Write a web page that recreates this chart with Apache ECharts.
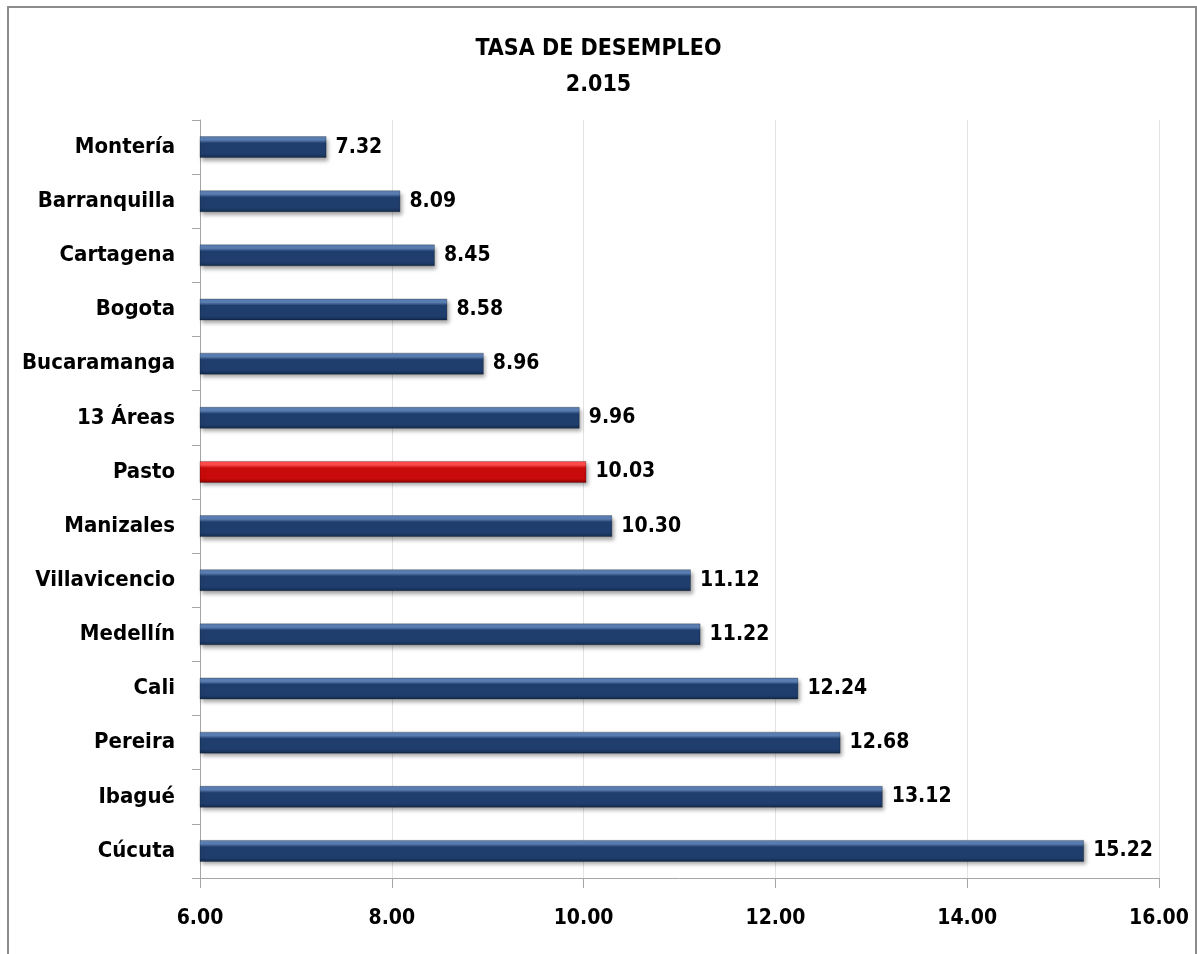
<!DOCTYPE html>
<html>
<head>
<meta charset="utf-8">
<script src="https://cdn.jsdelivr.net/npm/echarts@6/dist/echarts.min.js"></script>
<style>
  html, body { margin: 0; padding: 0; background: #fff; }
  #frame {
    position: absolute; left: 7px; top: 6px; width: 1190px; height: 960px;
    border: 2px solid #8c8c8c; box-sizing: border-box;
  }
  #myChart { width: 1197px; height: 954px; position: absolute; left: 0; top: 0; }
</style>
</head>
<body>
<div id="frame"></div>
<div id="myChart"></div>
<script>
// ciudades de arriba hacia abajo
var ciudades = ['Montería', 'Barranquilla', 'Cartagena', 'Bogota', 'Bucaramanga', '13 Áreas', 'Pasto',
  'Manizales', 'Villavicencio', 'Medellín', 'Cali', 'Pereira', 'Ibagué', 'Cúcuta'];
var tasas = [7.32, 8.09, 8.45, 8.58, 8.96, 9.96, 10.03, 10.30, 11.12, 11.22, 12.24, 12.68, 13.12, 15.22];
var destacado = 'Pasto';

var fuente = '"DejaVu Sans Condensed", sans-serif';

function relleno(base, claro, oscuro) {
  return new echarts.graphic.LinearGradient(0, 0, 0, 1, [
    { offset: 0, color: claro },
    { offset: 0.18, color: claro },
    { offset: 0.32, color: base },
    { offset: 0.8, color: base },
    { offset: 1, color: oscuro }
  ]);
}

var datos = tasas.map(function (v, i) {
  var rojo = ciudades[i] === destacado;
  return {
    value: v,
    itemStyle: {
      color: rojo ? relleno('#c90a0a', '#ff4a4a', '#8e0000') : relleno('#1f3e6d', '#5b7fb3', '#132a4d')
    }
  };
});

var myChart = echarts.init(document.getElementById('myChart'));
myChart.setOption({
  animation: false,
  title: {
    text: 'TASA DE DESEMPLEO\n2.015',
    left: 'center',
    top: 26,
    textStyle: { fontFamily: fuente, fontWeight: 'bold', fontSize: 23, color: '#000', lineHeight: 36 }
  },
  grid: { left: 200, right: 38, top: 120, bottom: 76, containLabel: false, outerBoundsMode: 'none' },
  xAxis: {
    type: 'value',
    min: 6, max: 16, interval: 2,
    axisLine: { show: true, lineStyle: { color: '#a6a6a6' } },
    axisTick: { show: true, length: 10, lineStyle: { color: '#a6a6a6' } },
    splitLine: { show: true, lineStyle: { color: '#e3e3e3' } },
    axisLabel: {
      margin: 30,
      fontFamily: fuente, fontWeight: 'bold', fontSize: 21, color: '#000',
      formatter: function (v) { return v.toFixed(2); }
    }
  },
  yAxis: {
    type: 'category',
    inverse: true,
    data: ciudades,
    axisLine: { show: true, lineStyle: { color: '#a6a6a6' } },
    axisTick: { show: true, length: 8, lineStyle: { color: '#a6a6a6' } },
    axisLabel: { margin: 25, fontFamily: fuente, fontWeight: 'bold', fontSize: 22, color: '#000' }
  },
  series: [{
    type: 'bar',
    data: datos,
    barWidth: 22,
    itemStyle: {
      borderColor: 'rgba(0,0,0,0.25)', borderWidth: 1,
      shadowColor: 'rgba(0,0,0,0.35)', shadowBlur: 4, shadowOffsetX: 2, shadowOffsetY: 3
    },
    label: {
      show: true, position: 'right', distance: 9,
      fontFamily: fuente, fontWeight: 'bold', fontSize: 21, color: '#000',
      formatter: function (p) { return p.value.toFixed(2); }
    }
  }]
});
</script>
</body>
</html>
